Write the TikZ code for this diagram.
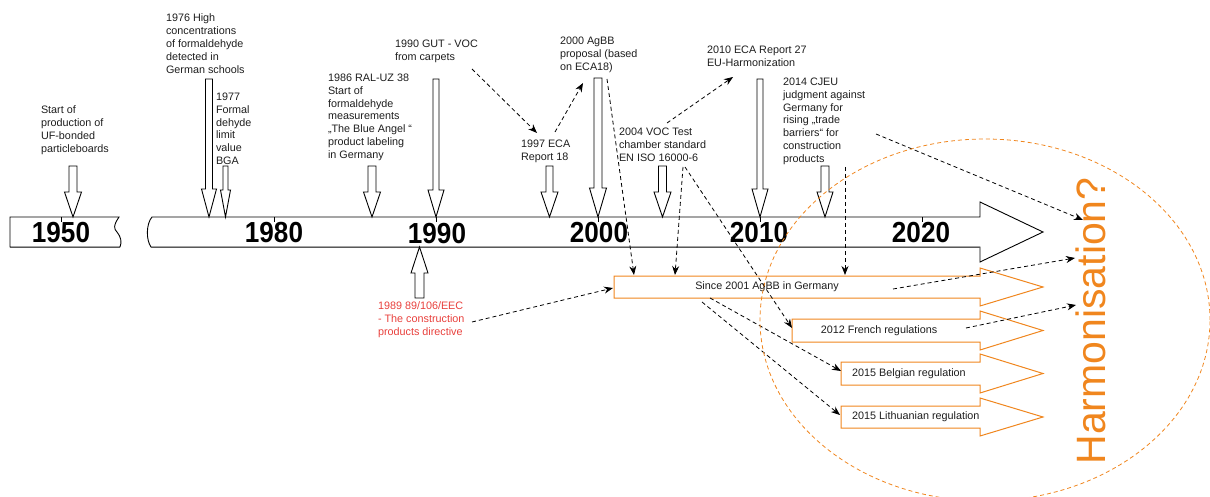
\documentclass[tikz,border=0pt]{standalone}
\usepackage{fontspec}
\setmainfont{Liberation Sans}
\usepackage{graphicx}
\usetikzlibrary{arrows.meta}
\definecolor{orng}{RGB}{240,134,30}
\definecolor{redtxt}{RGB}{232,64,60}
\definecolor{txt}{RGB}{30,30,30}
\newcommand\tlDown[6]{%
  \draw[blk] (#1-#4,#2) -- (#1+#4,#2) -- (#1+#4,#3) -- (#1+#5,#3) -- (#1,#6) -- (#1-#5,#3) -- (#1-#4,#3) -- cycle;}
\newcommand\tlOArrow[5]{%
  \draw[oblk] (#1,#2) -- (980,#2) -- (980,#4) -- (1043,{(#4+#5)/2}) -- (980,#5) -- (980,#3) -- (#1,#3) -- cycle;}
\begin{document}
\begin{tikzpicture}[x=1pt,y=-1pt,
  lbl/.style={anchor=north west,inner sep=0pt,outer sep=0pt,align=left,text=txt,font=\fontsize{10.8}{12.8}\selectfont},
  year/.style={inner sep=0pt,font=\fontsize{29}{29}\selectfont\bfseries,text=black},
  conn/.style={draw=black,line width=0.8pt,dash pattern=on 4pt off 3pt,-{Stealth[length=9pt,width=7pt]}},
  blk/.style={draw=black,line width=0.9pt,fill=white},
  oblk/.style={draw=orng,line width=1pt,fill=white},
  boxtxt/.style={inner sep=0pt,text=txt,font=\fontsize{10.8}{12.8}\selectfont},
]
\useasboundingbox (0,0) rectangle (1210,497);
% timeline bars
\draw[blk] (10,217) -- (119,217) .. controls (113,226) and (114,229) .. (117,232) .. controls (121,237) and (122,242) .. (120,247) -- (10,247) -- cycle;
\draw[blk] (152,217) -- (980,217) -- (980,202) -- (1043,232) -- (980,262) -- (980,247) -- (151,247) .. controls (146,240) and (146,224) .. (152,217) -- cycle;
\draw[black!65,line width=0.9pt] (10,247) -- (120,247) (151,247) -- (980,247);
% ticks
\foreach \tx in {61,274,436,598,760,922} \draw[black,line width=0.8pt] (\tx,217) -- (\tx,222);
% year labels
\node[year] (y1950) at (61,233) {\scalebox{0.9}[1]{1950}};
\node[year] (y1980) at (274,233) {\scalebox{0.9}[1]{1980}};
\node[year] (y1990) at (437,234) {\scalebox{0.9}[1]{1990}};
\node[year] (y2000) at (599,233) {\scalebox{0.9}[1]{2000}};
\node[year] (y2010) at (759,233) {\scalebox{0.9}[1]{2010}};
\node[year] (y2020) at (921,233) {\scalebox{0.9}[1]{2020}};
% block arrows to timeline
\tlDown{73}{166}{192}{4}{8.5}{217}
\tlDown{209}{79}{189}{3.5}{7.5}{217}
\tlDown{225.5}{166}{190}{2.5}{5}{217}
\tlDown{372}{166}{192}{4}{8.5}{217}
\tlDown{436}{79}{190}{3}{8}{217}
\tlDown{549.5}{166}{192}{3.5}{8.5}{217}
\tlDown{598}{78}{188}{4}{8.5}{217}
\tlDown{662.5}{166}{192}{4}{8.5}{217}
\tlDown{760}{79}{189}{3}{8}{217}
\tlDown{825}{166}{192}{4}{8}{217}
\tlDown{419.5}{298}{273}{4.5}{8.5}{247}
% orange regulation arrows
\tlOArrow{614}{276}{298}{268}{306}
\tlOArrow{792}{319}{342}{311}{350}
\tlOArrow{841}{362}{385}{354}{393}
\tlOArrow{841}{406}{428}{398}{436}
\node[boxtxt] (agbb) at (767,287) {Since 2001 AgBB in Germany};
\node[boxtxt] (french) at (879,330.5) {2012 French regulations};
\node[boxtxt,anchor=west] (belgian) at (852,373.5) {2015 Belgian regulation};
\node[boxtxt,anchor=west] (lithuan) at (852,417) {2015 Lithuanian regulation};
% event texts
\node[lbl] (tStart) at (41,106) {Start of\\production of\\UF-bonded\\particleboards};
\node[lbl] (t1976) at (166,14) {1976 High\\concentrations\\of formaldehyde\\detected in\\German schools};
\node[lbl] (t1977) at (216,93) {1977\\Formal\\dehyde\\limit\\value\\BGA};
\node[lbl] (t1986) at (328,74) {1986 RAL-UZ 38\\Start of\\formaldehyde\\measurements\\„The Blue Angel “\\product labeling\\in Germany};
\node[lbl] (t1990) at (395,40) {1990 GUT - VOC\\from carpets};
\node[lbl] (t1997) at (521,140) {1997 ECA\\Report 18};
\node[lbl] (t2000) at (560,37) {2000 AgBB\\proposal (based\\on ECA18)};
\node[lbl] (t2004) at (619,128) {2004 VOC Test\\chamber standard\\EN ISO 16000-6};
\node[lbl] (t2010) at (707,46) {2010 ECA Report 27\\EU-Harmonization};
\node[lbl] (t2014) at (783,78) {2014 CJEU\\judgment against\\Germany for\\rising „trade\\barriers“ for\\construction\\products};
\node[lbl,text=redtxt] (t1989) at (378,302) {1989 89/106/EEC\\- The construction\\products directive};
\node[rotate=90,text=orng,inner sep=0pt,font=\fontsize{41}{41}\selectfont] (harm) at (1091,321) {Harmonisation?};
% connector end points
\coordinate (c1s) at (472,69);   \coordinate (c1e) at (537,133);
\coordinate (c2s) at (555,132);  \coordinate (c2e) at (583,83);
\coordinate (c3s) at (607,79);   \coordinate (c3e) at (634,275);
\coordinate (c4s) at (683,167);  \coordinate (c4e) at (675,275);
\coordinate (c5s) at (667,123);  \coordinate (c5e) at (733,77);
\coordinate (c6s) at (685,167);  \coordinate (c6e) at (792,328);
\coordinate (c7s) at (845,167);  \coordinate (c7e) at (845,275);
\coordinate (c8s) at (876,134);  \coordinate (c8e) at (1083,220);
\coordinate (c9s) at (893,289);  \coordinate (c9e) at (1075,258);
\coordinate (c10s) at (966,328); \coordinate (c10e) at (1076,305);
\coordinate (c11s) at (472,322); \coordinate (c11e) at (613,288);
\coordinate (c12s) at (710,298); \coordinate (c12e) at (841,371);
\coordinate (c13s) at (702,302); \coordinate (c13e) at (840,415);
\foreach \i in {1,...,13} \draw[conn] (c\i s) -- (c\i e);
% harmonisation ellipse
\draw[orng,line width=0.8pt,dash pattern=on 4pt off 3pt] (985,320) ellipse [x radius=225pt, y radius=181pt];
\end{tikzpicture}
\end{document}
